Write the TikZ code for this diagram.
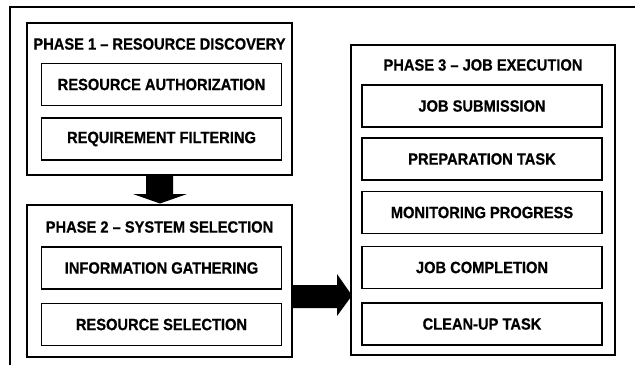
\documentclass[tikz,border=0pt]{standalone}
\usepackage{fontspec}
\setmainfont{Liberation Sans}
\newfontfamily\narrowbold[FakeStretch=0.9,FakeBold=0.6]{Liberation Sans Bold}
\begin{document}
\begin{tikzpicture}[x=1pt,y=-1pt,
  phasebox/.style={draw=black,line width=1.8pt},
  taskbox/.style={draw=black,line width=1.8pt,minimum width=240pt,minimum height=42pt,inner sep=0pt,font=\fontsize{16.3}{18}\narrowbold},
  phasetitle/.style={inner sep=0pt,font=\fontsize{16.3}{18}\narrowbold},
  bigarrow/.style={fill=black,draw=none}]
\useasboundingbox (0,0) rectangle (635,365);
% outer frame (cropped)
\draw[line width=1.4pt] (10,365) -- (10,7) -- (635,7);
% Phase 1
\node[phasebox,minimum width=265pt,minimum height=152pt,inner sep=0pt] (p1) at (159.5,99) {};
\node[phasetitle] (t1) at (159.5,44) {PHASE 1 – RESOURCE DISCOVERY};
\node[taskbox] (a1) at (161.5,84.5) {RESOURCE AUTHORIZATION};
\node[taskbox] (a2) at (161.5,139) {REQUIREMENT FILTERING};
% Phase 2
\node[phasebox,minimum width=265pt,minimum height=152pt,inner sep=0pt] (p2) at (159.5,281) {};
\node[phasetitle] (t2) at (159.5,227) {PHASE 2 – SYSTEM SELECTION};
\node[taskbox] (b1) at (161.5,268) {INFORMATION GATHERING};
\node[taskbox] (b2) at (161.5,324.5) {RESOURCE SELECTION};
% Phase 3
\node[phasebox,minimum width=264pt,minimum height=310pt,inner sep=0pt] (p3) at (483,200) {};
\node[phasetitle] (t3) at (483,65) {PHASE 3 – JOB EXECUTION};
\node[taskbox] (c1) at (482,106) {JOB SUBMISSION};
\node[taskbox] (c2) at (482,159) {PREPARATION TASK};
\node[taskbox] (c3) at (482,212.5) {MONITORING PROGRESS};
\node[taskbox] (c4) at (482,267.5) {JOB COMPLETION};
\node[taskbox] (c5) at (482,324) {CLEAN-UP TASK};
% down arrow from phase 1 to phase 2
\fill[bigarrow] (146,175) -- (173,175) -- (173,194) -- (187,194) -- (160,203.5) -- (133,194) -- (146,194) -- cycle;
% right arrow from phase 2 to phase 3
\fill[bigarrow] (292,285) -- (337,285) -- (337,274) -- (352,295.5) -- (337,316) -- (337,308) -- (292,308) -- cycle;
\end{tikzpicture}
\end{document}
